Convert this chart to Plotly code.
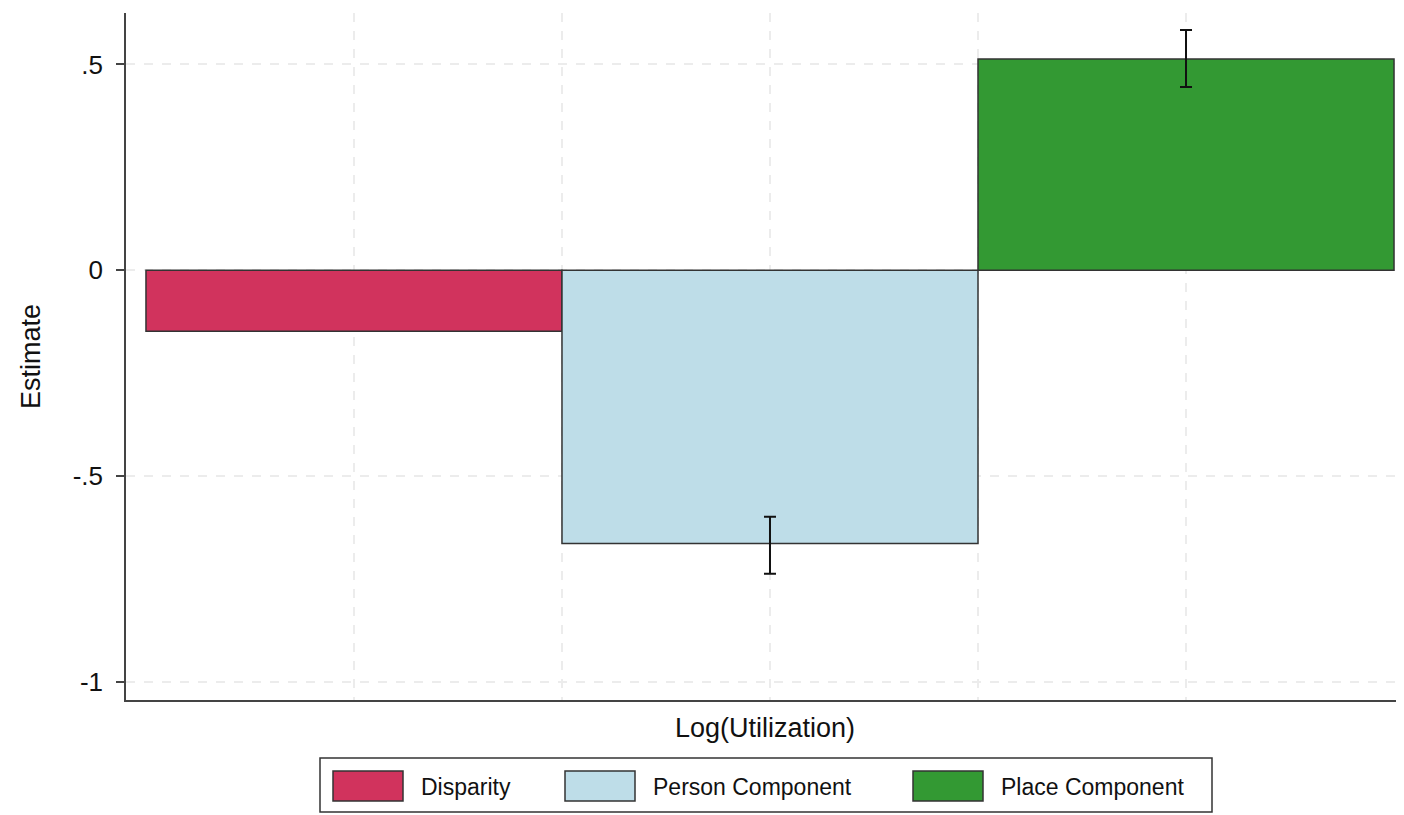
import plotly.graph_objects as go

# values
categories = ["Disparity", "Person Component", "Place Component"]
estimates = [-0.148, -0.664, 0.513]
ci_low = [None, -0.737, 0.445]
ci_high = [None, -0.599, 0.584]
bar_colors = ["#D1335D", "#BEDDE8", "#339933"]
ytick_vals = [-1, -0.5, 0, 0.5]
ytick_text = ["-1", "-.5", "0", ".5"]

# page body has an 8px margin, so the figure is drawn a bit smaller
OFF = 8
W, H = 1404 - OFF, 815 - OFF
L, R, T, B = 126 - OFF, 0, 13 - OFF, 815 - 700
FONT = "Liberation Sans, Arial, Helvetica, sans-serif"


def px_to_paper(x, y):
    # screen pixel -> paper coordinates of the plot area
    x, y = x - OFF, y - OFF
    return (x - L) / (W - L - R), (H - B - y) / (H - T - B)


fig = go.Figure()
for i, name in enumerate(categories):
    err = None
    if ci_low[i] is not None:
        err = dict(type="data", symmetric=False,
                   array=[ci_high[i] - estimates[i]],
                   arrayminus=[estimates[i] - ci_low[i]],
                   color="#111111", thickness=2, width=6)
    fig.add_trace(go.Bar(
        x=[i], y=[estimates[i]], width=1, name=name,
        marker=dict(color=bar_colors[i], line=dict(color="#333333", width=1.5)),
        error_y=err, showlegend=False))

fig.update_layout(
    width=W, height=H,
    margin=dict(l=L, r=R, t=T, b=B),
    plot_bgcolor="white", paper_bgcolor="white",
    font=dict(family=FONT, color="#111111"),
    barmode="overlay",
    showlegend=False,
)

fig.update_xaxes(
    range=[-0.548, 2.524],
    tickvals=[0, 0.5, 1, 1.5, 2], showticklabels=False, ticks="",
    showgrid=True, gridcolor="#ECECEC", gridwidth=1.5, griddash="dash",
    zeroline=False, showline=True, linecolor="#444444", linewidth=1.5,
    title=dict(text="Log(Utilization)", font=dict(size=27), standoff=17),
)
fig.update_yaxes(
    range=[-1.044, 0.625],
    tickvals=ytick_vals, ticktext=ytick_text,
    tickfont=dict(size=26), ticks="outside", ticklen=8,
    tickcolor="#444444", tickwidth=1.5, ticklabelstandoff=8,
    showgrid=True, gridcolor="#ECECEC", gridwidth=1.5, griddash="dash",
    zeroline=False, showline=True, linecolor="#444444", linewidth=1.5,
    title=dict(text="Estimate", font=dict(size=27), standoff=24),
)

# hand-made legend box below the plot, wide swatches like the original
shapes = []
annotations = []
x0, y0 = px_to_paper(320, 758)
x1, y1 = px_to_paper(1212, 812)
shapes.append(dict(type="rect", xref="paper", yref="paper",
                   x0=x0, y0=y0, x1=x1, y1=y1,
                   line=dict(color="#333333", width=1.5), fillcolor="white"))
swatch_left = [333, 565, 913]
for i, name in enumerate(categories):
    sx0, sy0 = px_to_paper(swatch_left[i], 771)
    sx1, sy1 = px_to_paper(swatch_left[i] + 70, 801)
    shapes.append(dict(type="rect", xref="paper", yref="paper",
                       x0=sx0, y0=sy0, x1=sx1, y1=sy1,
                       line=dict(color="#333333", width=1.5),
                       fillcolor=bar_colors[i]))
    tx, ty = px_to_paper(swatch_left[i] + 86, 787)
    annotations.append(dict(xref="paper", yref="paper", x=tx, y=ty,
                            text=name, showarrow=False, xanchor="left",
                            yanchor="middle", font=dict(size=23, family=FONT)))

fig.update_layout(shapes=shapes, annotations=annotations)

fig.write_html("out.html")
